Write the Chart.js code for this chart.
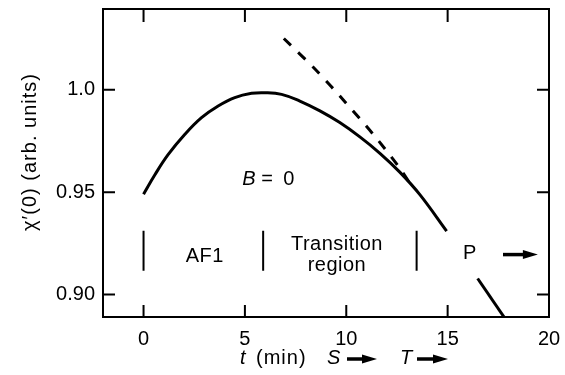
<!DOCTYPE html>
<html>
<head>
<meta charset="utf-8">
<script src="https://cdn.jsdelivr.net/npm/chart.js@4/dist/chart.umd.min.js"></script>
<style>
  html, body { margin: 0; padding: 0; background: #fff; }
  #wrap { width: 565px; height: 375px; }
</style>
</head>
<body>
<div id="wrap"><canvas id="c" width="565" height="375"></canvas></div>
<script>
// solid curve, B = 0
const curveT = [0, 0.56, 1.21, 2.04, 2.86, 3.68, 4.50, 5.33, 5.98, 6.81, 7.71, 8.70, 9.68, 10.67, 11.66, 12.64, 13.63, 14.95];
const curveChi = [0.949, 0.9585, 0.9683, 0.9783, 0.9864, 0.9921, 0.9962, 0.9983, 0.9986, 0.9978, 0.9945, 0.9897, 0.9840, 0.9770, 0.9690, 0.9598, 0.9488, 0.931];

// dashed line
const dashT = [6.92, 8.55, 9.93, 11.30, 12.56, 13.22];
const dashChi = [1.0251, 1.0092, 0.9942, 0.9786, 0.9628, 0.9531];

// short segment in the P region
const pLineT = [16.48, 17.85];
const pLineChi = [0.9078, 0.888];

// region boundaries (vertical bars)
const markT = [0, 5.9, 13.47];
const markChi = [0.9116, 0.9311];

// arrow after P
const pArrowT = [17.73, 19.45];
const pArrowChi = 0.9195;

const xTicks = [0, 5, 10, 15, 20];
const yTicks = [0.90, 0.95, 1.00];
const yLabels = ['0.90', '0.95', '1.0'];

// text labels inside the plot: [text, t, chi]
const regionLabels = [
    ['AF1', 3.02, 0.9188],
    ['Transition', 9.54, 0.9246],
    ['region', 9.54, 0.9144],
    ['P', 16.1, 0.9198]
];
const bLabel = {t: 6.15, chi: 0.9563};

const FONT = "'Liberation Sans', Arial, Helvetica, sans-serif";

function pts(xs, ys) {
    return xs.map((x, i) => ({x: x, y: Array.isArray(ys) ? ys[i] : ys}));
}

let markData = [];
markT.forEach(t => {
    markData.push({x: t, y: markChi[0]}, {x: t, y: markChi[1]}, {x: t, y: null});
});

function arrow(ctx, x0, x1, y) {
    let head = 15;
    ctx.save();
    ctx.lineWidth = 3.5;
    ctx.beginPath();
    ctx.moveTo(x0, y);
    ctx.lineTo(x1 - head + 2, y);
    ctx.stroke();
    ctx.beginPath();
    ctx.moveTo(x1, y);
    ctx.lineTo(x1 - head, y - 4.5);
    ctx.lineTo(x1 - head, y + 4.5);
    ctx.closePath();
    ctx.fill();
    ctx.restore();
}

// no extra room for the end tick labels: the frame is fixed by layout padding
function noPad(scale) {
    scale.paddingTop = 0;
    scale.paddingBottom = 0;
    scale.paddingLeft = 0;
    scale.paddingRight = 0;
}

const decor = {
    id: 'decor',
    afterDraw(chart) {
        let ctx = chart.ctx;
        let xs = chart.scales.x, ys = chart.scales.y;
        let a = chart.chartArea;
        ctx.save();
        ctx.strokeStyle = '#000';
        ctx.fillStyle = '#000';

        // frame
        ctx.lineWidth = 2;
        ctx.strokeRect(a.left, a.top, a.right - a.left, a.bottom - a.top);

        // inward ticks
        ctx.beginPath();
        xTicks.forEach(v => {
            let px = xs.getPixelForValue(v);
            ctx.moveTo(px, a.bottom); ctx.lineTo(px, a.bottom - 12);
            ctx.moveTo(px, a.top); ctx.lineTo(px, a.top + 13);
        });
        yTicks.forEach(v => {
            let py = ys.getPixelForValue(v);
            ctx.moveTo(a.left, py); ctx.lineTo(a.left + 12, py);
            ctx.moveTo(a.right, py); ctx.lineTo(a.right - 12, py);
        });
        ctx.stroke();

        // labels in the plot
        ctx.textAlign = 'center';
        ctx.textBaseline = 'middle';
        ctx.font = '20px ' + FONT;
        ctx.letterSpacing = '0.5px';
        regionLabels.forEach(l => {
            ctx.fillText(l[0], xs.getPixelForValue(l[1]), ys.getPixelForValue(l[2]));
        });
        ctx.letterSpacing = '0px';

        // B = 0
        let bx = xs.getPixelForValue(bLabel.t), by = ys.getPixelForValue(bLabel.chi);
        ctx.textAlign = 'left';
        ctx.font = 'italic 20px ' + FONT;
        ctx.fillText('B', bx - 26, by);
        ctx.font = '20px ' + FONT;
        ctx.fillText('=', bx - 7, by);
        ctx.fillText('0', bx + 15, by);

        // arrow after P
        arrow(ctx, xs.getPixelForValue(pArrowT[0]), xs.getPixelForValue(pArrowT[1]), ys.getPixelForValue(pArrowChi));

        // x title: t (min)  S ->  T ->
        let ty = 358;
        ctx.textAlign = 'left';
        ctx.font = 'italic 20px ' + FONT;
        ctx.fillText('t', 240, ty);
        ctx.font = '20px ' + FONT;
        ctx.letterSpacing = '1px';
        ctx.fillText('(min)', 256, ty);
        ctx.letterSpacing = '0px';
        ctx.font = 'italic 20px ' + FONT;
        ctx.fillText('S', 327, ty);
        arrow(ctx, 347, 377, ty + 1);
        ctx.fillText('T', 400, ty);
        arrow(ctx, 417, 448, ty + 1);

        // y title
        ctx.save();
        ctx.translate(30, 152);
        ctx.rotate(-Math.PI / 2);
        ctx.textAlign = 'center';
        ctx.font = '20px ' + FONT;
        ctx.letterSpacing = '1px';
        ctx.fillText('\u03C7\u2032(0) (arb. units)', 0, 0);
        ctx.restore();

        ctx.restore();
    }
};

new Chart(document.getElementById('c'), {
    type: 'line',
    data: {
        datasets: [
            {
                data: pts(curveT, curveChi),
                borderColor: '#000', borderWidth: 3, pointRadius: 0,
                tension: 0.4
            },
            {
                data: pts(dashT, dashChi),
                borderColor: '#000', borderWidth: 3, pointRadius: 0,
                borderDash: [10, 10], tension: 0.3
            },
            {
                data: pts(pLineT, pLineChi),
                borderColor: '#000', borderWidth: 3, pointRadius: 0
            },
            {
                data: markData,
                borderColor: '#000', borderWidth: 2, pointRadius: 0, spanGaps: false
            }
        ]
    },
    options: {
        responsive: false,
        animation: false,
        devicePixelRatio: 1,
        layout: {padding: {left: 0, top: 9, right: 16, bottom: 0}},
        plugins: {legend: {display: false}, tooltip: {enabled: false}},
        scales: {
            x: {
                type: 'linear',
                min: -2, max: 20,
                grid: {display: false, drawTicks: false},
                border: {display: false},
                ticks: {
                    stepSize: 5, includeBounds: false, padding: 10,
                    color: '#000', font: {family: FONT, size: 20},
                    maxRotation: 0
                },
                afterFit(scale) { scale.height = 58; noPad(scale); }
            },
            y: {
                type: 'linear',
                min: 0.889, max: 1.0395,
                grid: {display: false, drawTicks: false},
                border: {display: false},
                ticks: {
                    stepSize: 0.05, includeBounds: false, padding: 8,
                    color: '#000', font: {family: FONT, size: 20},
                    callback: v => {
                        let i = yTicks.findIndex(t => Math.abs(t - v) < 1e-6);
                        return i >= 0 ? yLabels[i] : '';
                    }
                },
                afterFit(scale) { scale.width = 103; noPad(scale); }
            }
        }
    },
    plugins: [decor]
});
</script>
</body>
</html>
